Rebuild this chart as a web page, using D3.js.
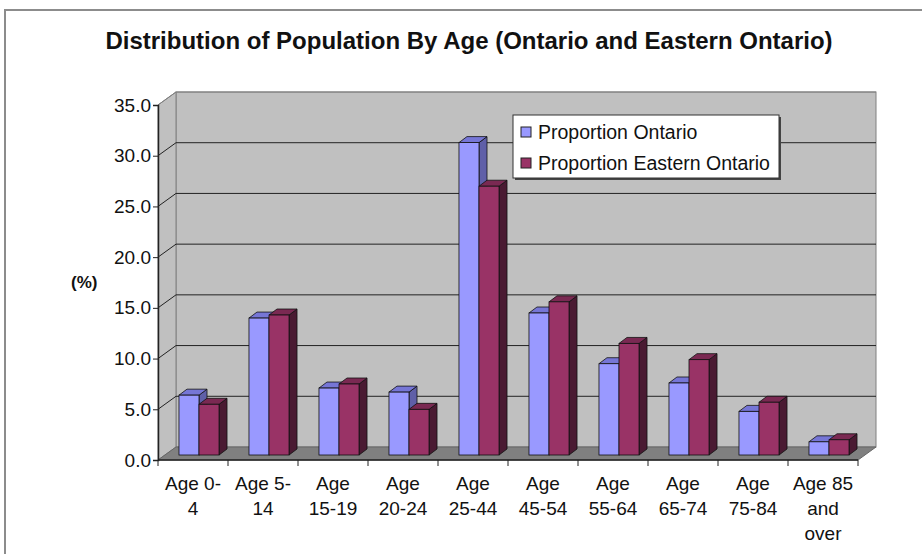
<!DOCTYPE html>
<html>
<head>
<meta charset="utf-8">
<script src="https://cdn.jsdelivr.net/npm/d3@7"></script>
<style>
  body { margin: 0; background: #fff; }
  svg text { font-family: "Liberation Sans", Arial, sans-serif; fill: #111; }
</style>
</head>
<body>
<div id="chart"></div>
<script>
"use strict";

// chart values
const categories = ["Age 0-\n4", "Age 5-\n14", "Age\n15-19", "Age\n20-24", "Age\n25-44",
    "Age\n45-54", "Age\n55-64", "Age\n65-74", "Age\n75-84", "Age 85\nand\nover"];
const ontario = [5.9, 13.5, 6.6, 6.2, 30.8, 14.0, 9.0, 7.1, 4.3, 1.3];
const easternOntario = [5.0, 13.8, 7.0, 4.5, 26.5, 15.1, 11.0, 9.4, 5.2, 1.5];
const seriesNames = ["Proportion Ontario", "Proportion Eastern Ontario"];
const yTicks = [0, 5, 10, 15, 20, 25, 30, 35];

const cont = {
    width: 922,
    height: 554,
    left: 158,
    right: 858,
    top: 105,
    bottom: 460,
    depthX: 18,
    depthY: -13,
}

const colors = [
    { front: "#9999ff", top: "#7676d6", side: "#5f5fa8" },
    { front: "#993366", top: "#7a2952", side: "#4a1a32" },
];

window.onload = function () {
    let svg = d3.select("#chart")
        .append("svg")
        .attr("width", cont.width)
        .attr("height", cont.height);

    // outer chart frame
    svg.append("rect")
        .attr("x", 5).attr("y", 10)
        .attr("width", 940).attr("height", 560)
        .attr("fill", "white")
        .attr("stroke", "#8c8c8c")
        .attr("stroke-width", 2);

    svg.append("text")
        .attr("x", 469)
        .attr("y", 49)
        .attr("text-anchor", "middle")
        .attr("font-weight", "bold")
        .attr("font-size", 24)
        .text("Distribution of Population By Age (Ontario and Eastern Ontario)");

    let yScale = d3.scaleLinear()
        .domain([0, 35])
        .range([cont.bottom, cont.top]);

    let xScale = d3.scaleBand()
        .domain(d3.range(categories.length))
        .range([cont.left, cont.right]);

    drawWalls(svg, yScale);
    drawBars(svg, xScale, yScale);
    drawAxes(svg, xScale, yScale);
    drawLegend(svg);
}

function drawWalls(svg, yScale) {
    let dx = cont.depthX, dy = cont.depthY;
    let top = yScale(35), bot = yScale(0);

    // back wall
    svg.append("rect")
        .attr("x", cont.left + dx).attr("y", top + dy)
        .attr("width", cont.right - cont.left).attr("height", bot - top)
        .attr("fill", "#c0c0c0")
        .attr("stroke", "#808080");

    // left wall
    svg.append("polygon")
        .attr("points", [[cont.left, top], [cont.left + dx, top + dy],
            [cont.left + dx, bot + dy], [cont.left, bot]].join(" "))
        .attr("fill", "#c0c0c0")
        .attr("stroke", "#808080");

    // gridlines on both walls
    let grid = svg.append("g");
    yTicks.filter((t) => t > 0).forEach((t) => {
        let y = yScale(t);
        grid.append("polyline")
            .attr("points", [[cont.left, y], [cont.left + dx, y + dy], [cont.right + dx, y + dy]].join(" "))
            .attr("fill", "none")
            .attr("stroke", t == 35 ? "#808080" : "#222")
            .attr("stroke-width", 1);
    });

    // floor
    svg.append("polygon")
        .attr("points", [[cont.left, bot], [cont.right, bot],
            [cont.right + dx, bot + dy], [cont.left + dx, bot + dy]].join(" "))
        .attr("fill", "#808080")
        .attr("stroke", "#666");
}

function drawBars(svg, xScale, yScale) {
    let bw = xScale.bandwidth();
    let barW = bw * 0.286;
    let ox = 6, oy = -5;     // bar front face pushed back into the floor
    let sx = 8, sy = -6;     // bar depth
    let g = svg.append("g");

    categories.forEach((c, i) => {
        [ontario[i], easternOntario[i]].forEach((v, s) => {
            let x0 = xScale(i) + bw / 2 - barW + s * barW + ox;
            let x1 = x0 + barW;
            let yb = yScale(0) + oy;
            let yt = yScale(v) + oy;
            let col = colors[s];
            g.append("polygon")
                .attr("points", [[x1, yt], [x1 + sx, yt + sy], [x1 + sx, yb + sy], [x1, yb]].join(" "))
                .attr("fill", col.side).attr("stroke", "#111").attr("stroke-width", 0.8);
            g.append("polygon")
                .attr("points", [[x0, yt], [x1, yt], [x1 + sx, yt + sy], [x0 + sx, yt + sy]].join(" "))
                .attr("fill", col.top).attr("stroke", "#111").attr("stroke-width", 0.8);
            g.append("rect")
                .attr("x", x0).attr("y", yt)
                .attr("width", barW).attr("height", yb - yt)
                .attr("fill", col.front).attr("stroke", "#111").attr("stroke-width", 0.8);
        });
    });
}

function drawAxes(svg, xScale, yScale) {
    let yAxis = d3.axisLeft(yScale)
        .tickValues(yTicks)
        .tickSize(5)
        .tickFormat(d3.format(".1f"));
    let yg = svg.append("g")
        .attr("transform", "translate(" + cont.left + ",0)")
        .call(yAxis);
    yg.select(".domain").attr("stroke", "#222").attr("stroke-width", 1.5);
    yg.selectAll(".tick line").attr("stroke", "#222");
    yg.selectAll(".tick text")
        .attr("font-size", 19)
        .attr("font-family", "Liberation Sans, Arial, sans-serif")
        .attr("fill", "#111")
        .attr("x", -7);

    // x axis with ticks at category boundaries
    let xg = svg.append("g");
    xg.append("line")
        .attr("x1", cont.left).attr("x2", cont.right)
        .attr("y1", cont.bottom).attr("y2", cont.bottom)
        .attr("stroke", "#222").attr("stroke-width", 1.5);
    d3.range(categories.length + 1).forEach((i) => {
        let x = i < categories.length ? xScale(i) : cont.right;
        xg.append("line")
            .attr("x1", x).attr("x2", x)
            .attr("y1", cont.bottom).attr("y2", cont.bottom + 6)
            .attr("stroke", "#222");
    });

    categories.forEach((c, i) => {
        let t = xg.append("text")
            .attr("x", xScale(i) + xScale.bandwidth() / 2)
            .attr("y", 490)
            .attr("text-anchor", "middle")
            .attr("font-size", 19);
        c.split("\n").forEach((line, k) => {
            t.append("tspan")
                .attr("x", xScale(i) + xScale.bandwidth() / 2)
                .attr("dy", k == 0 ? 0 : 25)
                .text(line);
        });
    });

    svg.append("text")
        .attr("x", 71).attr("y", 288)
        .attr("font-weight", "bold")
        .attr("font-size", 17)
        .text("(%)");
}

function drawLegend(svg) {
    let lg = svg.append("g").attr("transform", "translate(513,115)");
    lg.append("rect")
        .attr("x", 2).attr("y", 2)
        .attr("width", 266).attr("height", 63)
        .attr("fill", "#444");
    lg.append("rect")
        .attr("width", 266).attr("height", 63)
        .attr("fill", "white")
        .attr("stroke", "#333");
    seriesNames.forEach((name, i) => {
        lg.append("rect")
            .attr("x", 8).attr("y", 12 + i * 31)
            .attr("width", 10).attr("height", 10)
            .attr("fill", colors[i].front)
            .attr("stroke", "#222");
        lg.append("text")
            .attr("x", 25).attr("y", 24 + i * 31)
            .attr("font-size", 19.5)
            .text(name);
    });
}
</script>
</body>
</html>
